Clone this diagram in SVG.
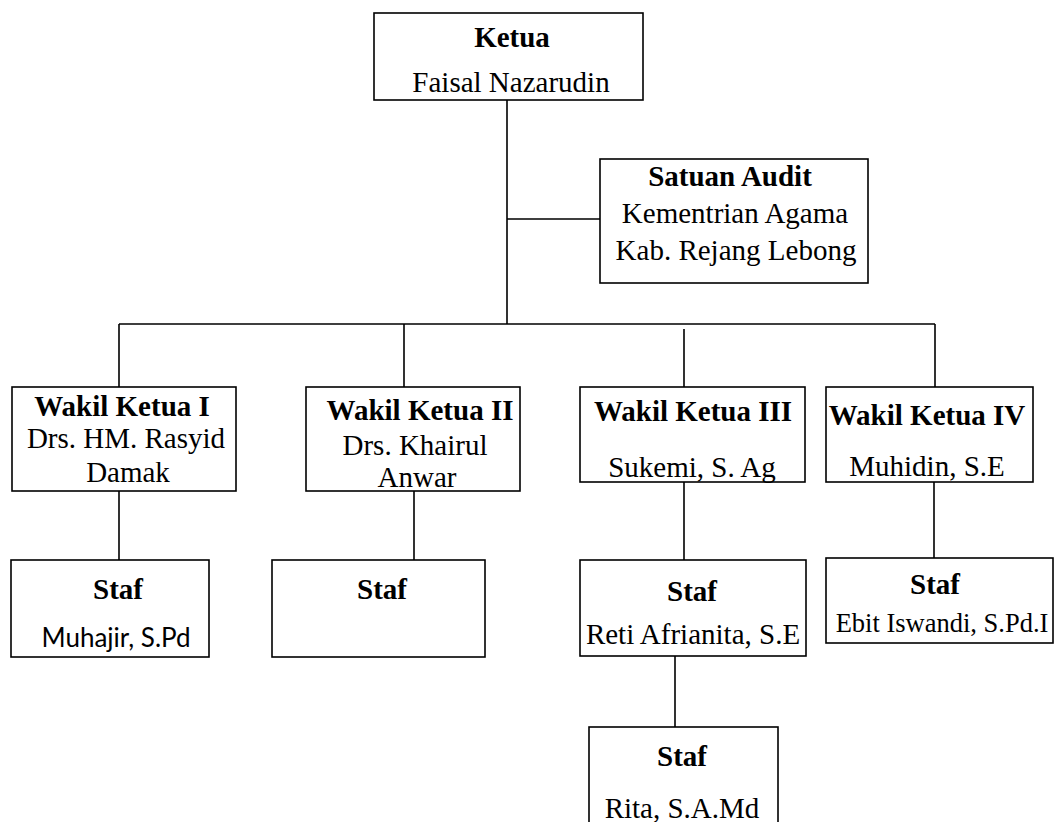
<svg xmlns="http://www.w3.org/2000/svg" width="1056" height="822" viewBox="0 0 1056 822">
<style>
.box{fill:#fff;stroke:#000;stroke-width:1.6}
.ln{stroke:#000;stroke-width:1.6;fill:none}
text{font-family:"Liberation Serif","Times New Roman",serif;font-size:29px;fill:#000;text-anchor:middle}
.b{font-weight:bold}
.c{font-family:Lato,"Open Sans",sans-serif;font-size:26px}
.s{font-size:26.5px}
</style>
<rect width="1056" height="822" fill="#fff"/>
<g id="connectors">
<path class="ln" d="M507 100V324M507 219H600M119 324H935M119 324V387M404 324V387M684 329V387M935 324V387M119 491V560M414 491V560M684 482V560M934 482V558M675 656V727"/>
</g>
<g id="ketua">
<rect class="box" x="374" y="13" width="269" height="87"/>
<text class="b" x="512" y="47">Ketua</text>
<text x="511" y="92">Faisal Nazarudin</text>
</g>
<g id="satuan-audit">
<rect class="box" x="600" y="159" width="268" height="124"/>
<text class="b" x="730" y="186">Satuan Audit</text>
<text x="735" y="223">Kementrian Agama</text>
<text x="736" y="260">Kab. Rejang Lebong</text>
</g>
<g id="wakil1">
<rect class="box" x="12" y="387" width="224" height="104"/>
<text class="b" x="122" y="416">Wakil Ketua I</text>
<text x="126" y="448">Drs. HM. Rasyid</text>
<text x="128" y="482">Damak</text>
</g>
<g id="wakil2">
<rect class="box" x="306" y="387" width="214" height="104"/>
<text class="b" x="420" y="420">Wakil Ketua II</text>
<text x="415" y="455">Drs. Khairul</text>
<text x="417" y="487">Anwar</text>
</g>
<g id="wakil3">
<rect class="box" x="580" y="387" width="225" height="95"/>
<text class="b" x="693" y="421">Wakil Ketua III</text>
<text x="692" y="477">Sukemi, S. Ag</text>
</g>
<g id="wakil4">
<rect class="box" x="826" y="387" width="207" height="95"/>
<text class="b" x="927" y="425">Wakil Ketua IV</text>
<text x="927" y="476">Muhidin, S.E</text>
</g>
<g id="staf1">
<rect class="box" x="11" y="560" width="198" height="97"/>
<text class="b" x="118" y="599">Staf</text>
<text class="c" x="116" y="647">Muhajir, S.Pd</text>
</g>
<g id="staf2">
<rect class="box" x="272" y="560" width="213" height="97"/>
<text class="b" x="382" y="599">Staf</text>
</g>
<g id="staf3">
<rect class="box" x="580" y="560" width="226" height="96"/>
<text class="b" x="692" y="601">Staf</text>
<text x="693" y="644">Reti Afrianita, S.E</text>
</g>
<g id="staf4">
<rect class="box" x="826" y="558" width="227" height="85"/>
<text class="b" x="935" y="594">Staf</text>
<text class="s" x="942" y="632">Ebit Iswandi, S.Pd.I</text>
</g>
<g id="staf5">
<rect class="box" x="589" y="727" width="189" height="110"/>
<text class="b" x="682" y="766">Staf</text>
<text x="682" y="818">Rita, S.A.Md</text>
</g>
</svg>
